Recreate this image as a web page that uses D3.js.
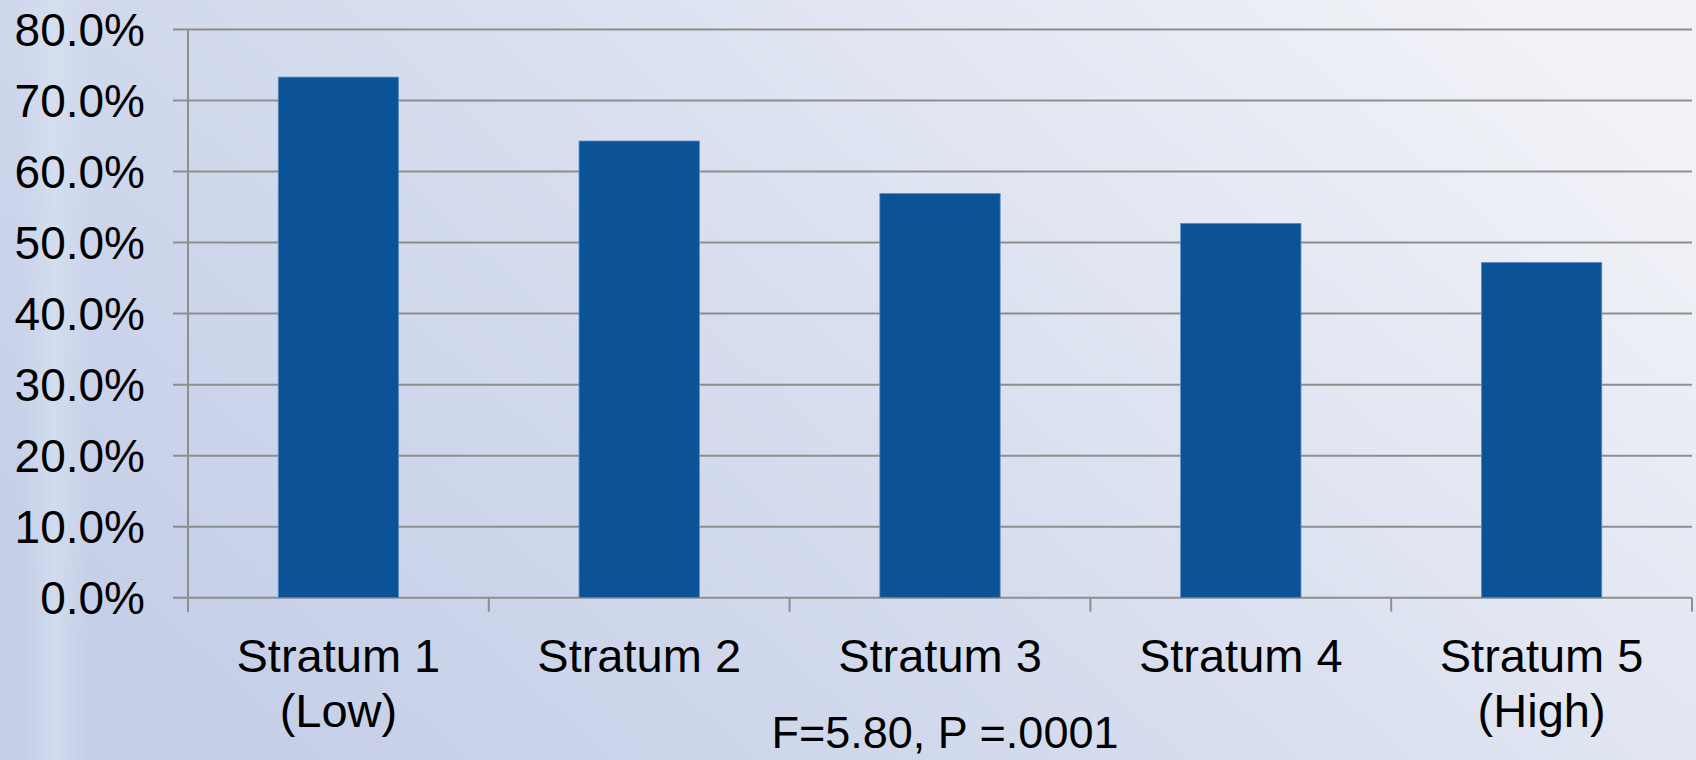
<!DOCTYPE html>
<html>
<head>
<meta charset="utf-8">
<script src="https://cdn.jsdelivr.net/npm/d3@7"></script>
<style>
  html, body { margin: 0; padding: 0; overflow: hidden; }
  body { width: 1696px; height: 760px; font-family: "Liberation Sans", Arial, sans-serif; }
</style>
</head>
<body>
<div id="chart"></div>
<script>
// stratum share (percent)
const categories = ["Stratum 1|(Low)", "Stratum 2", "Stratum 3", "Stratum 4", "Stratum 5|(High)"];
const values = [73.3, 64.3, 56.9, 52.7, 47.2];
const yTicks = [0, 10, 20, 30, 40, 50, 60, 70, 80];
const note = "F=5.80, P =.0001";

(function(){
    const width = 1696, height = 760;
    const left = 188, right = 1692, top = 29.5, bottom = 597.7;

    const svg = d3.select("#chart").append("svg")
        .attr("width", width)
        .attr("height", height);

    // background gradient, darker on the left
    const defs = svg.append("defs");
    const bg = defs.append("linearGradient")
        .attr("id", "bg")
        .attr("x1", "0%").attr("y1", "75%")
        .attr("x2", "100%").attr("y2", "25%");
    bg.append("stop").attr("offset", "0%").attr("stop-color", "#c4cee7");
    bg.append("stop").attr("offset", "45%").attr("stop-color", "#d5dcee");
    bg.append("stop").attr("offset", "100%").attr("stop-color", "#f1f2f7");

    const streak = defs.append("linearGradient")
        .attr("id", "streak")
        .attr("x1", "0%").attr("x2", "100%");
    streak.append("stop").attr("offset", "0%").attr("stop-color", "#d8e4f2").attr("stop-opacity", 0);
    streak.append("stop").attr("offset", "50%").attr("stop-color", "#d8e4f2").attr("stop-opacity", 0.6);
    streak.append("stop").attr("offset", "100%").attr("stop-color", "#d8e4f2").attr("stop-opacity", 0);

    svg.append("rect").attr("width", width).attr("height", height).attr("fill", "url(#bg)");
    svg.append("rect").attr("x", 20).attr("y", 0).attr("width", 70).attr("height", height)
        .attr("fill", "url(#streak)");

    const x = d3.scaleBand()
        .domain(categories)
        .range([left, right])
        .paddingInner(0.6)
        .paddingOuter(0.3);

    const y = d3.scaleLinear()
        .domain([0, 80])
        .range([bottom, top]);

    const grid = "#8e8e8e";

    // gridlines + y ticks
    svg.append("g")
        .selectAll("line")
        .data(yTicks)
        .join("line")
        .attr("x1", left - 15)
        .attr("x2", right)
        .attr("y1", d => y(d))
        .attr("y2", d => y(d))
        .attr("stroke", grid)
        .attr("stroke-width", 2);

    svg.append("g")
        .selectAll("text")
        .data(yTicks)
        .join("text")
        .attr("x", 145)
        .attr("y", d => y(d))
        .attr("dy", "0.36em")
        .attr("text-anchor", "end")
        .attr("font-size", 46)
        .attr("fill", "#000")
        .text(d => d.toFixed(1) + "%");

    // bars
    svg.append("g")
        .selectAll("rect")
        .data(values)
        .join("rect")
        .attr("x", (d, i) => x(categories[i]))
        .attr("y", d => y(d))
        .attr("width", x.bandwidth())
        .attr("height", d => y(0) - y(d))
        .attr("fill", "#0b5296")
        .attr("stroke", "#5d8cc4")
        .attr("stroke-width", 0.8);

    // axis lines
    svg.append("line")
        .attr("x1", left).attr("x2", left)
        .attr("y1", top).attr("y2", bottom + 14)
        .attr("stroke", grid).attr("stroke-width", 2);

    const step = x.step();
    const boundaries = d3.range(categories.length + 1).map(i => left + i * step);
    svg.append("g")
        .selectAll("line")
        .data(boundaries)
        .join("line")
        .attr("x1", d => d).attr("x2", d => d)
        .attr("y1", bottom).attr("y2", bottom + 14)
        .attr("stroke", grid).attr("stroke-width", 2);

    // category labels
    const lbl = svg.append("g")
        .selectAll("text")
        .data(categories)
        .join("text")
        .attr("x", d => x(d) + x.bandwidth() / 2)
        .attr("y", 672)
        .attr("text-anchor", "middle")
        .attr("font-size", 47)
        .attr("fill", "#000");

    lbl.each(function(d) {
        const parts = d.split("|");
        const t = d3.select(this);
        parts.forEach((p, i) => {
            t.append("tspan")
                .attr("x", t.attr("x"))
                .attr("dy", i === 0 ? 0 : 55)
                .text(p);
        });
    });

    svg.append("text")
        .attr("x", (left + right) / 2 + 5)
        .attr("y", 748)
        .attr("text-anchor", "middle")
        .attr("font-size", 45)
        .attr("fill", "#000")
        .text(note);
})();
</script>
</body>
</html>
